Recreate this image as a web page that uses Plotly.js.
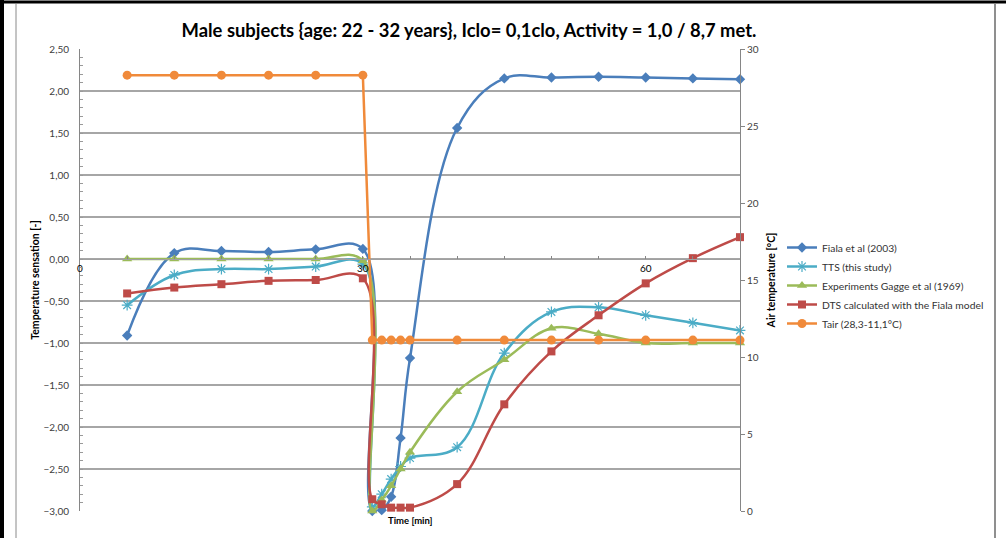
<!DOCTYPE html>
<html>
<head>
<meta charset="utf-8">
<script src="https://cdn.plot.ly/plotly-3.0.1.min.js"></script>
<style>html,body{margin:0;padding:0;background:#fff;}#chart{width:1006px;height:538px;}</style>
</head>
<body>
<div id="chart"></div>
<script>
// ---- data ----
const timeMin = [5, 10, 15, 20, 25, 30, 31, 32, 33, 34, 35, 40, 45, 50, 55, 60, 65, 70];
const fialaSensation = [-0.91, 0.07, 0.095, 0.083, 0.115, 0.12, -3.0, -2.99, -2.83, -2.13, -1.18, 1.56, 2.15, 2.16, 2.17, 2.16, 2.15, 2.14];
const ttsSensation = [-0.55, -0.19, -0.12, -0.12, -0.09, -0.06, -2.95, -2.80, -2.62, -2.47, -2.37, -2.24, -1.12, -0.63, -0.575, -0.67, -0.76, -0.85];
const gaggeSensation = [0, 0, 0, 0, 0, -0.02, -3.0, -2.87, -2.70, -2.50, -2.30, -1.58, -1.20, -0.825, -0.89, -1.0, -1.0, -1.0];
const dtsSensation = [-0.41, -0.34, -0.30, -0.26, -0.25, -0.23, -2.86, -2.92, -2.96, -2.96, -2.96, -2.68, -1.73, -1.10, -0.67, -0.29, 0.01, 0.26];
const airTemp = [28.3, 28.3, 28.3, 28.3, 28.3, 28.3, 11.1, 11.1, 11.1, 11.1, 11.1, 11.1, 11.1, 11.1, 11.1, 11.1, 11.1, 11.1];
const seriesNames = ["Fiala et al (2003)", "TTS (this study)", "Experiments Gagge et al (1969)", "DTS calculated with the Fiala model", "Tair (28,3-11,1°C)"];
const xTickVals = [0, 30, 60];
const xTickText = ["0", "30", "60"];

const FONT = "Lato, 'Open Sans', sans-serif";
const colors = ["#4a7ebb", "#4bacc6", "#9bbb59", "#be4b48", "#f08a3a"];

function smoothTrace(y, i, marker) {
  return {
    x: timeMin, y: y, name: seriesNames[i], type: "scatter", mode: "lines+markers",
    legendgroup: "g" + i,
    line: {color: colors[i], width: 2.5, shape: "spline", smoothing: 1.1},
    marker: Object.assign({color: colors[i]}, marker),
    cliponaxis: false
  };
}

const traces = [
  smoothTrace(fialaSensation, 0, {symbol: "diamond", size: 8}),
  smoothTrace(ttsSensation, 1, {symbol: "asterisk-open", size: 9, line: {color: colors[1], width: 1.2}}),
  smoothTrace(gaggeSensation, 2, {symbol: "triangle-up", size: 9}),
  smoothTrace(dtsSensation, 3, {symbol: "square", size: 8}),
  {
    x: timeMin, y: airTemp, name: seriesNames[4], type: "scatter", mode: "lines+markers",
    yaxis: "y2", legendgroup: "g4",
    line: {color: colors[4], width: 2.5, shape: "linear"},
    marker: {color: colors[4], symbol: "circle", size: 9},
    cliponaxis: false
  }
];

const P = (px) => (px - 80) / 660;      // pixel x -> paper x
const Q = (py) => (511 - py) / 462;     // pixel y -> paper y

const layout = {
  width: 1006, height: 538,
  margin: {l: 80, r: 266, t: 49, b: 27, pad: 0},
  paper_bgcolor: "#ffffff", plot_bgcolor: "#ffffff",
  separators: ",.",
  font: {family: FONT, size: 10, color: "#404040"},
  showlegend: true,
  title: {
    text: "<b>Male subjects {age: 22 - 32 years}, Iclo= 0,1clo, Activity = 1,0 / 8,7 met.</b>",
    font: {family: FONT, size: 18.4, color: "#000000"},
    x: 469 / 1006, xanchor: "center", xref: "container",
    y: 1 - 31 / 538, yanchor: "middle", yref: "container"
  },
  xaxis: {
    range: [0, 70], anchor: "free", position: 3 / 5.5,
    tickvals: xTickVals, ticktext: xTickText,
    ticks: "inside", ticklen: 3, tickcolor: "#868686",
    minor: {dtick: 5, ticks: "inside", ticklen: 3, tickcolor: "#868686", showgrid: false},
    showline: true, linecolor: "#a0a0a0", linewidth: 1.3,
    showgrid: false, zeroline: false,
    tickfont: {family: FONT, size: 10, color: "#000000"},
    automargin: false, fixedrange: true
  },
  yaxis: {
    range: [-3, 2.5], dtick: 0.5, tick0: 0, tickformat: ".2f",
    ticks: "inside", ticklen: 3, tickcolor: "#9a9a9a",
    minor: {dtick: 0.1, ticks: "inside", ticklen: 3, tickcolor: "#9a9a9a", showgrid: false},
    showline: true, linecolor: "#868686", linewidth: 1,
    showgrid: true, gridcolor: "#a6a6a6", gridwidth: 1.3, zeroline: false,
    ticklabelstandoff: 8,
    tickfont: {family: FONT, size: 10, color: "#404040"},
    title: {text: "<b>Temperature sensation [-]</b>", font: {family: FONT, size: 10.5, color: "#000000"}, standoff: 1},
    automargin: false, fixedrange: true
  },
  yaxis2: {
    range: [0, 30], dtick: 5, overlaying: "y", side: "right", anchor: "x",
    ticks: "outside", ticklen: 4, tickcolor: "#868686",
    showline: true, linecolor: "#868686", linewidth: 1,
    showgrid: false, zeroline: false,
    tickfont: {family: FONT, size: 10, color: "#404040"},
    title: {text: "<b>Air temperature [°C]</b>", font: {family: FONT, size: 10.5, color: "#000000"}, standoff: 9},
    automargin: false, fixedrange: true
  },
  legend: {
    x: P(782), xanchor: "left", y: Q(233), yanchor: "top",
    font: {family: FONT, size: 10.3, color: "#333333"},
    bgcolor: "rgba(0,0,0,0)", tracegroupgap: 5, itemwidth: 30,
    traceorder: "normal"
  },
  annotations: [{
    text: "<b>Time [min]</b>", xref: "paper", yref: "paper",
    x: 0.5, y: Q(520), xanchor: "center", yanchor: "middle",
    showarrow: false, font: {family: FONT, size: 9.5, color: "#000000"}
  }],
  shapes: [
    {type: "line", xref: "paper", yref: "paper", x0: P(0), x1: P(1006), y0: Q(2), y1: Q(2), line: {color: "#000", width: 3}},
    {type: "line", xref: "paper", yref: "paper", x0: P(2), x1: P(2), y0: Q(0), y1: Q(538), line: {color: "#000", width: 4}},
    {type: "line", xref: "paper", yref: "paper", x0: P(16), x1: P(16), y0: Q(4), y1: Q(538), line: {color: "#8a8a8a", width: 1}},
    {type: "line", xref: "paper", yref: "paper", x0: P(995), x1: P(995), y0: Q(4), y1: Q(538), line: {color: "#6a6a6a", width: 1.5}}
  ]
};

Plotly.newPlot("chart", traces, layout, {displayModeBar: false, staticPlot: true});
</script>
</body>
</html>
